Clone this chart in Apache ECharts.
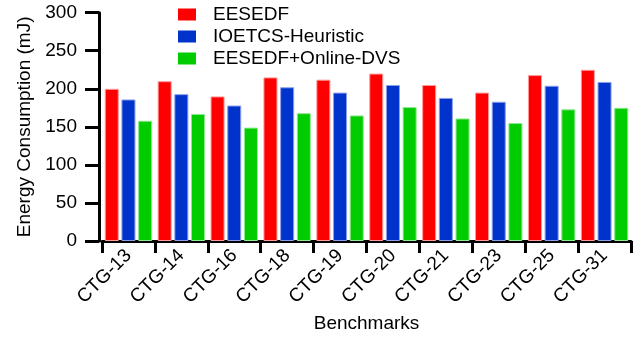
<!DOCTYPE html>
<html>
<head>
<meta charset="utf-8">
<script src="https://cdn.jsdelivr.net/npm/echarts@6/dist/echarts.min.js"></script>
<style>html,body{margin:0;padding:0;background:#fff}#c{width:644px;height:339px}</style>
</head>
<body>
<div id="c"></div>
<script>
var categories = ['CTG-13','CTG-14','CTG-16','CTG-18','CTG-19','CTG-20','CTG-21','CTG-23','CTG-25','CTG-31'];
var eesedf = [200, 210, 190, 215, 212, 220, 205, 195, 218, 225];
var ioetcs = [186, 193, 178, 202, 195, 205, 188, 183, 204, 209];
var onlineDvs = [158, 167, 149, 168, 165, 176, 161, 155, 173, 175];
var seriesNames = ['EESEDF', 'IOETCS-Heuristic', 'EESEDF+Online-DVS'];
var yTicks = [0, 50, 100, 150, 200, 250, 300];

var FONT = '"Liberation Sans", Arial, sans-serif';
var chart = echarts.init(document.getElementById('c'), null, {renderer: 'canvas'});
function bar(name, data, color, border) {
  return {
    name: name, type: 'bar', data: data,
    barGap: '19%', barCategoryGap: '10.4%',
    itemStyle: {color: color, borderColor: border, borderWidth: 1},
    emphasis: {disabled: true}
  };
}
chart.setOption({
  animation: false,
  backgroundColor: '#fff',
  textStyle: {fontFamily: FONT},
  grid: {left: 102, right: 13, top: 12.7, bottom: 98, containLabel: false},
  legend: {
    orient: 'vertical', left: 178, top: 5, padding: 0,
    itemWidth: 18, itemHeight: 12, itemGap: 3,
    icon: 'rect',
    itemStyle: {borderWidth: 0},
    textStyle: {fontFamily: FONT, fontSize: 19, color: '#000', lineHeight: 19, padding: [0, 0, 0, 12]},
    data: seriesNames
  },
  xAxis: {
    type: 'category', data: categories, offset: 4.5,
    name: 'Benchmarks', nameLocation: 'middle', nameGap: 63,
    nameTextStyle: {fontFamily: FONT, fontSize: 19, color: '#000'},
    axisLine: {lineStyle: {color: '#000', width: 3}},
    axisTick: {show: true, length: 12, lineStyle: {color: '#000', width: 3}},
    axisLabel: {rotate: 45, interval: 0, margin: 7, fontFamily: FONT, fontSize: 19, color: '#000'}
  },
  yAxis: {
    type: 'value', min: yTicks[0], max: yTicks[yTicks.length - 1], interval: 50, offset: 3,
    name: 'Energy Consumption (mJ)', nameLocation: 'middle', nameGap: 64,
    nameTextStyle: {fontFamily: FONT, fontSize: 19, color: '#000'},
    axisLine: {show: true, lineStyle: {color: '#000', width: 3}},
    axisTick: {show: true, length: 14, lineStyle: {color: '#000', width: 3}},
    axisLabel: {margin: 22, fontFamily: FONT, fontSize: 19, color: '#000'},
    splitLine: {show: false}
  },
  series: [
    bar(seriesNames[0], eesedf, '#ff0000', '#ff9a9a'),
    bar(seriesNames[1], ioetcs, '#0033cc', '#8c9ee8'),
    bar(seriesNames[2], onlineDvs, '#00cc00', '#8ee88e')
  ]
});
</script>
</body>
</html>
